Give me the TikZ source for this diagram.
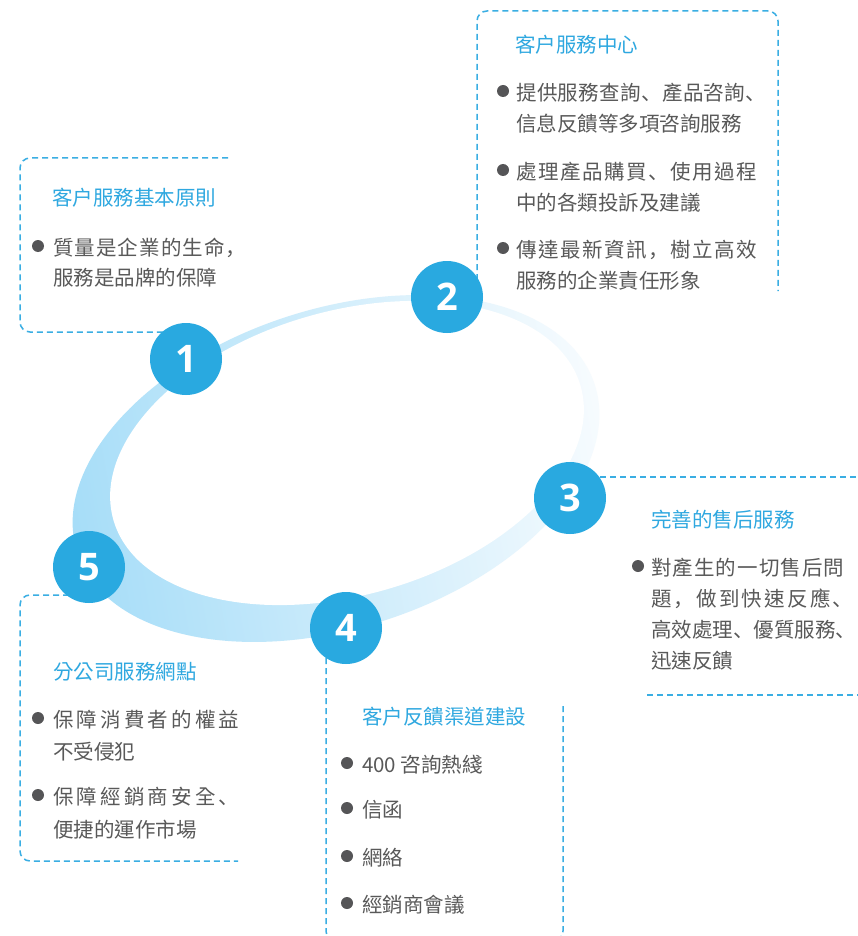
\documentclass[tikz,border=0pt]{standalone}
\usepackage{fontspec}
\setmainfont{Noto Sans CJK TC}
\newfontfamily\scfont{Noto Sans CJK SC}
\newfontfamily\numfont{Open Sans}
\newcommand\dun{{\scfont 、}}
\newcommand\dou{{\scfont ，}}
\definecolor{cblue}{HTML}{29A9E0}
\definecolor{tblue}{HTML}{2FA8E0}
\definecolor{dblue}{HTML}{3AAEE3}
\definecolor{bodygray}{HTML}{595959}
\definecolor{bulgray}{HTML}{555557}
\definecolor{ringA}{HTML}{A6DDF8}
\definecolor{ringB}{HTML}{F6FBFE}
\def\spreadA#1#2\spreadEnd{#1\ifx\relax#2\relax\else\hfil\spreadA#2\spreadEnd\fi}
\newcommand\jline[2]{\makebox[#1][s]{\spreadA#2\spreadEnd}}
\begin{document}
\begin{tikzpicture}[x=1pt,y=-1pt,
  dbox/.style={draw=dblue, line width=1.5pt, dash pattern=on 6pt off 4pt, rounded corners=10pt},
  num/.style={circle, fill=cblue, minimum size=72pt, inner sep=0pt, text=white, font=\numfont\bfseries\fontsize{38}{38}\selectfont},
  ttl/.style={anchor=west, inner sep=0pt, text=tblue, font=\fontsize{20.5}{24}\selectfont, text height=18pt, text depth=2.5pt},
  txt/.style={ttl, text=bodygray},
  bul/.style={circle, fill=bulgray, minimum size=12pt, inner sep=0pt}]
\useasboundingbox (0,0) rectangle (858,936);
\fill[white] (0,0) rectangle (858,936);
% ring
\begin{scope}[rotate around={18:(336,468.5)}]
\shade[left color=ringA, right color=ringB, shading angle=100] (336,468.5) ellipse [x radius=272, y radius=159.5];
\end{scope}
\begin{scope}[rotate around={16:(347,453)}]
\fill[white] (347,453) ellipse [x radius=243, y radius=142];
\end{scope}
% dashed boxes
\draw[dbox] (228,158) -- (20,158) -- (20,332) -- (186,332);
\draw[dbox] (477,290) -- (477,11) -- (778,11) -- (778,291);
\draw[dbox] (570,477) -- (858,477);
\draw[dbox] (647,695) -- (858,695);
\draw[dbox] (326,628) -- (326,941) -- (563,941) -- (563,703);
\draw[dbox] (89,595) -- (20,595) -- (20,861) -- (238,861);
% number circles
\node[num] (c1) at (186,359) {1};
\node[num] (c2) at (447,297) {2};
\node[num] (c3) at (570,498) {3};
\node[num] (c4) at (346,628) {4};
\node[num] (c5) at (89,567) {5};
% box 1
\node[ttl] (t1) at (52,198) {客户服務基本原則};
\node[bul] (b1a) at (38,246) {};
\node[txt] (l1a) at (53,248) {\jline{193pt}{質量是企業的生命\dou}};
\node[txt] (l1b) at (53,278) {服務是品牌的保障};
% box 2
\node[ttl] (t2) at (515,45) {客户服務中心};
\node[bul] (b2a) at (503,91) {};
\node[txt] (l2a) at (516,93) {\jline{250pt}{提供服務查詢\dun 產品咨詢\dun}};
\node[txt] (l2b) at (516,124) {信息反饋等多項咨詢服務};
\node[bul] (b2b) at (503,170) {};
\node[txt] (l2c) at (516,172) {\jline{241pt}{處理產品購買\dun 使用過程}};
\node[txt] (l2d) at (516,203) {中的各類投訴及建議};
\node[bul] (b2c) at (503,248) {};
\node[txt] (l2e) at (516,250) {\jline{241pt}{傳達最新資訊\dou 樹立高效}};
\node[txt] (l2f) at (516,281) {服務的企業責任形象};
% box 3
\node[ttl] (t3) at (651,520) {完善的售后服務};
\node[bul] (b3a) at (638,566) {};
\node[txt] (l3a) at (651,568) {\jline{193pt}{對產生的一切售后問}};
\node[txt] (l3b) at (651,599) {\jline{202pt}{題\dou 做到快速反應\dun}};
\node[txt] (l3c) at (651,630) {高效處理\dun 優質服務\dun};
\node[txt] (l3d) at (651,661) {迅速反饋};
% box 4
\node[ttl] (t4) at (362,717) {客户反饋渠道建設};
\node[bul] (b4a) at (347,763) {};
\node[txt] (l4a) at (362,765) {400 咨詢熱綫};
\node[bul] (b4b) at (347,808) {};
\node[txt] (l4b) at (362,810) {信函};
\node[bul] (b4c) at (347,856) {};
\node[txt] (l4c) at (362,858) {網絡};
\node[bul] (b4d) at (347,903) {};
\node[txt] (l4d) at (362,905) {經銷商會議};
% box 5
\node[ttl] (t5) at (53,672) {分公司服務網點};
\node[bul] (b5a) at (38,718) {};
\node[txt] (l5a) at (53,720) {\jline{186pt}{保障消費者的權益}};
\node[txt] (l5b) at (53,752) {不受侵犯};
\node[bul] (b5b) at (38,795) {};
\node[txt] (l5c) at (53,797) {\jline{186pt}{保障經銷商安全\dun}};
\node[txt] (l5d) at (53,830) {便捷的運作市場};
\end{tikzpicture}
\end{document}
